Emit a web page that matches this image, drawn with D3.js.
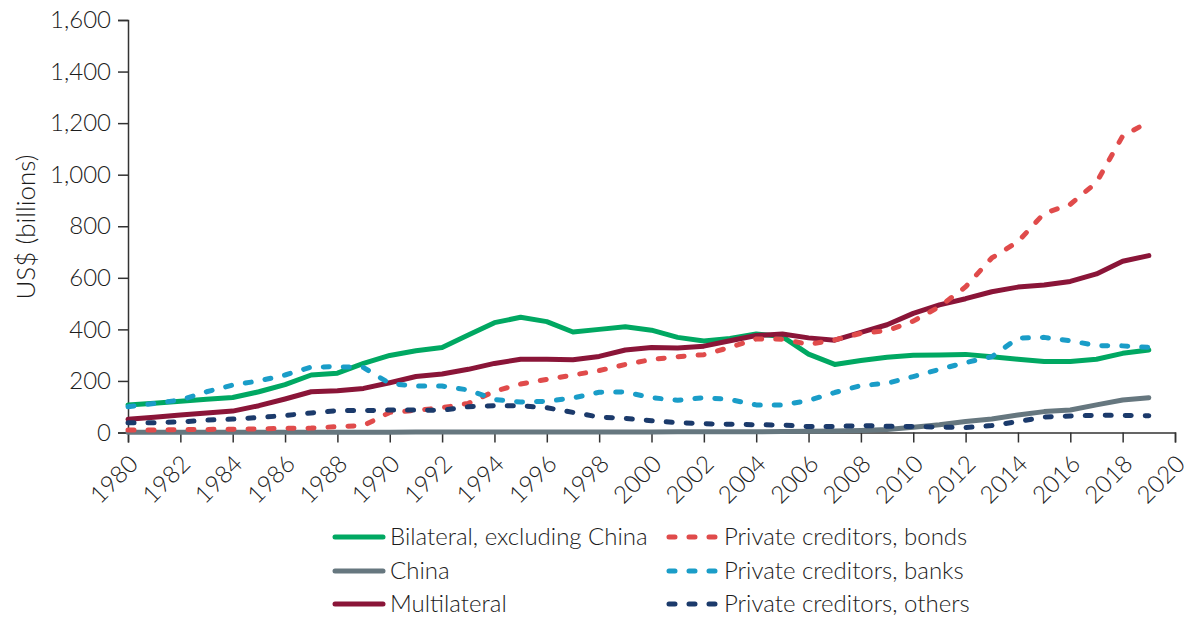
<!DOCTYPE html>
<html>
<head>
<meta charset="utf-8">
<script src="https://cdn.jsdelivr.net/npm/d3@7"></script>
<style>
  html, body { margin: 0; padding: 0; background: #fff; }
  svg { display: block; font-family: Lato, "Open Sans", "DejaVu Sans", sans-serif; }
</style>
</head>
<body>
<svg id="chart" width="1189" height="617"></svg>
<script>
const years = d3.range(1980, 2020);

const bilateral = [107,113,121,129,136,158,186,223,230,268,299,317,330,378,426,447,430,390,400,410,
                   397,369,355,365,382,372,304,264,279,292,300,301,303,294,284,275,275,284,307,320];
const china = [1,1,1,1,1,1,1,1,1,1,1,2,2,2,2,2,2,2,2,2,
               2,3,3,3,3,4,5,6,8,12,20,30,43,52,68,81,87,107,126,135];
const multilateral = [51,59,68,76,83,104,130,158,162,171,193,217,227,245,268,284,284,282,295,320,
                      330,328,335,356,376,382,367,358,388,418,462,495,519,546,564,572,586,615,664,686];
const bonds = [10,10,11,12,13,14,16,17,23,27,78,86,96,113,160,188,206,223,240,264,
               283,294,302,330,363,362,342,359,385,395,432,488,565,677,740,850,885,970,1150,1205];
const banks = [100,113,126,158,184,200,223,254,255,252,190,180,180,165,128,118,121,134,156,157,
               135,125,135,128,107,107,124,155,182,191,217,245,271,294,366,369,356,337,336,330];
const others = [38,38,41,48,52,58,66,76,85,85,87,87,86,100,104,104,96,78,60,55,
                46,38,34,32,30,29,23,23,27,24,23,21,19,27,42,60,64,67,66,65];

const yTicks = [0,200,400,600,800,1000,1200,1400,1600];
const xTicks = d3.range(1980, 2021, 2);

const seriesNames = ["Bilateral, excluding China","China","Multilateral",
                     "Private creditors, bonds","Private creditors, banks","Private creditors, others"];
const seriesValues = [bilateral, china, multilateral, bonds, banks, others];
const seriesColors = ["#00a862","#66777f","#8a1538","#e04b4b","#1a9dc8","#1b3a6b"];
const seriesDashed = [false,false,false,true,true,true];

const svg = d3.select("#chart");
const x = d3.scaleLinear().domain([1980, 2020]).range([128, 1175]);
const y = d3.scaleLinear().domain([0, 1600]).range([432.5, 20]);
const textColor = "#1c1c1c";
const fontStack = "Lato, 'Open Sans', sans-serif";
const fw = 300;

// Y axis
const yAxis = svg.append("g").attr("transform", "translate(128,0)")
  .call(d3.axisLeft(y).tickValues(yTicks).tickSize(10).tickPadding(7).tickFormat(d3.format(",")));
yAxis.select(".domain").attr("stroke", "#333").attr("stroke-width", 1.5);
yAxis.selectAll(".tick line").attr("stroke", "#333").attr("stroke-width", 1.5);
yAxis.selectAll(".tick text").attr("fill", textColor).style("font-size", "24px")
  .style("font-family", fontStack).style("font-weight", fw);

// X axis
const xAxis = svg.append("g").attr("transform", "translate(0,432.5)")
  .call(d3.axisBottom(x).tickValues(xTicks).tickSize(10).tickFormat(d3.format("d")));
xAxis.select(".domain").attr("stroke", "#333").attr("stroke-width", 1.5);
xAxis.selectAll(".tick line").attr("stroke", "#333").attr("stroke-width", 1.5);
xAxis.selectAll(".tick text").attr("fill", textColor).style("font-size", "24px")
  .style("font-family", fontStack).style("font-weight", fw)
  .attr("text-anchor", "end").attr("dy", null).attr("y", 0)
  .attr("transform", "translate(11,33) rotate(-45)");

// Y title
svg.append("text").attr("transform", "translate(35,227) rotate(-90)")
  .attr("text-anchor", "middle").attr("fill", textColor)
  .style("font-size", "26px").style("font-family", fontStack).style("font-weight", fw)
  .text("US$ (billions)");

// Lines
const line = d3.line().x((d, i) => x(years[i])).y(d => y(d));
seriesValues.forEach((vals, k) => {
  svg.append("path").datum(vals)
    .attr("d", line)
    .attr("fill", "none")
    .attr("stroke", seriesColors[k])
    .attr("stroke-width", 5)
    .attr("stroke-linejoin", "round")
    .attr("stroke-linecap", "round")
    .attr("stroke-dasharray", seriesDashed[k] ? "6,14" : null);
});

// Legend
const legendRows = [537, 571, 604];
seriesNames.forEach((name, k) => {
  const col = k < 3 ? 0 : 1;
  const row = k % 3;
  const x0 = col === 0 ? 333 : 667;
  const x1 = col === 0 ? 385 : 718;
  const tx = col === 0 ? 390 : 724;
  const g = svg.append("g");
  g.append("line").attr("x1", x0 + 2).attr("x2", x1 - 2)
    .attr("y1", legendRows[row]).attr("y2", legendRows[row])
    .attr("stroke", seriesColors[k]).attr("stroke-width", 5)
    .attr("stroke-linecap", "round")
    .attr("stroke-dasharray", seriesDashed[k] ? "6,14" : null);
  g.append("text").attr("x", tx).attr("y", legendRows[row]).attr("dy", "0.35em")
    .attr("fill", textColor).style("font-size", "24px")
    .style("font-family", fontStack).style("font-weight", fw).text(name);
});
</script>
</body>
</html>
